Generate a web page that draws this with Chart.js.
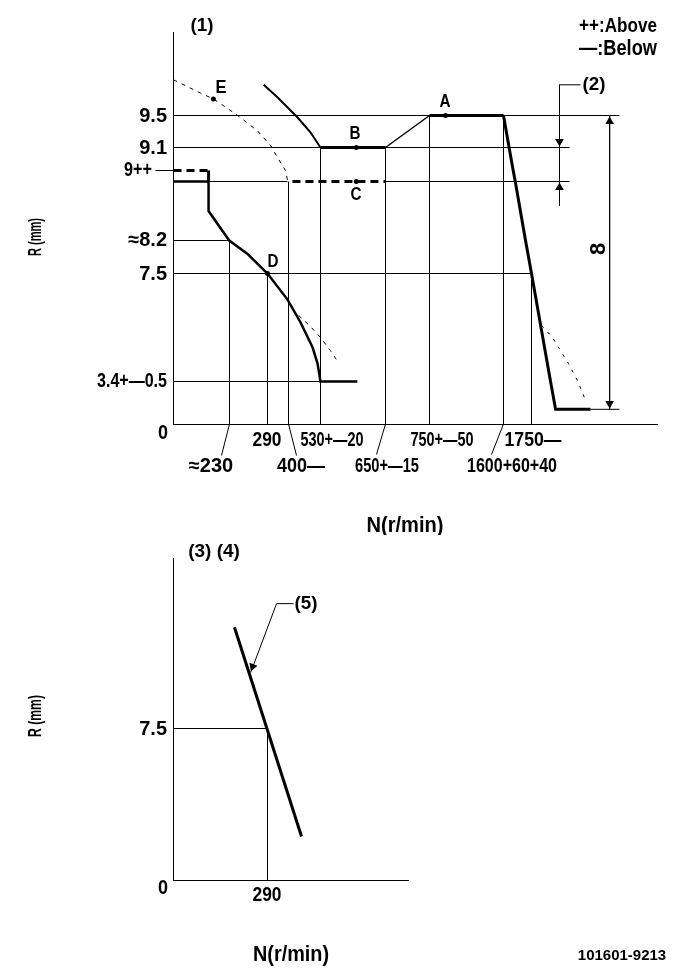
<!DOCTYPE html>
<html>
<head>
<meta charset="utf-8">
<style>
html,body{margin:0;padding:0;background:#fff;width:685px;height:979px;overflow:hidden}
canvas{position:absolute;left:0;display:block}
</style>
<script src="https://cdn.jsdelivr.net/npm/chart.js@4/dist/chart.umd.js"></script>
</head>
<body>
<canvas id="top" width="685" height="535" style="top:0"></canvas>
<canvas id="bottom" width="685" height="444" style="top:535px"></canvas>
<script>
// ---------- governor curve values (N in r/min, R in mm) ----------
const mainN = [0,144,144,229,258,290,395,449,498,518,530,598];
const mainR = [8.9,8.9,8.55,8.2,7.92,7.5,6.51,5.64,4.69,4.08,3.4,3.4];
const upperN = [284,342,437,489,530];
const upperR = [9.87,9.72,9.475,9.29,9.1];
const plateauBN = [530,650];
const plateauBR = [9.1,9.1];
const rampN = [650,750];
const rampR = [9.1,9.5];
const plateauAN = [750,1600];
const plateauAR = [9.5,9.5];
const dropN = [1600,1630,1652,1663,1718,1750,1818,1836,1961];
const dropR = [9.5,9.1,9.0,8.9,8.2,7.5,3.4,1.2,1.2];
const plusDashN = [0,144];
const plusDashR = [9.0,9.0];
const stepN = [144,144];
const stepR = [9.0,8.9];
const levelCN = [416,650];
const levelCR = [8.9,8.9];
const limitEN = [0,111,164,243,274,306,342,384,395];
const limitER = [9.93,9.77,9.7,9.5,9.31,9.125,9.057,9.0,8.91];
const limitLowN = [441,489,530,548,563];
const limitLowR = [5.91,5.49,5.07,4.58,4.12];
const limitHighN = [1786,1825,1882,1914,1939];
const limitHighR = [5.53,5.07,4.08,3.44,2.13];
const pointN = [934,596,596,290,164];
const pointR = [9.5,9.1,8.9,7.5,9.7];
// reference lines
const vLineN = [230,290,400,530,650,750,1600,1750];
const vLineR = [8.2,7.5,8.9,9.1,9.1,9.5,9.5,7.5];
const hLineR = [9.5,9.1,8.9,8.2,7.5,3.4];
const hLineFrom = [0,0,0,0,0,0];
const hLineTo = [2064,1886,395,230,1750,530];
const hLineCRightN = [650,1886];
const hLineCRightR = [8.9,8.9];
// dimension marks
const dim8N = [2029,2029];
const dim8R = [9.5,1.2];
const tail8N = [1961,2064];
const tail8R = [1.2,1.2];
const note2N = [1925,1850,1850];
const note2R = [9.87,9.87,8.615];
const arrowN = [2029,2029,1850,1850];
const arrowR = [9.425,1.66,9.175,8.83];
const arrowTurn = [0,180,180,0];
const plus9N = [-74,0];
const plus9R = [9.0,9.0];
// ---------- lower chart values ----------
const slopeN = [188,395];
const slopeR = [12.5,2.17];
const refVN = [290,290];
const refVR = [0,7.5];
const refHN = [0,290];
const refHR = [7.5,7.5];
const note5N = [370,318,238];
const note5R = [13.67,13.67,10.26];
const arrow5N = [244];
const arrow5R = [10.56];
// ---------- tick labels ----------
const xTickValues = [230,290,400,530,650,750,1600,1750];
const xTickLabels = ["≈230","290","400—","530+—20","650+—15","750+—50","1600+60+40","1750—"];
const yTickValues = [9.5,9.1,9.0,8.2,7.5,3.4];
const yTickLabels = ["9.5","9.1","9++","≈8.2","7.5","3.4+—0.5"];
const xTicksLow = [290];
const xTickLabelsLow = ["290"];
const yTicksLow = [7.5];
const yTickLabelsLow = ["7.5"];

// ---------- drawing layout (not data) ----------
const xStops = [0,230,290,400,530,650,750,1600,1750,2200];
const xStopOffsets = [0,56,94,115,147,212,256,330,358,484];
const yStops = [0,3.4,7.5,8.2,8.9,9.0,9.1,9.5,10.5];
const yStopOffsets = [0,43,151,184,243,254,277,309,392];
const xStopsLow = [0,290,725];
const xStopOffsetsLow = [0,94,235];
const yStopsLow = [0,7.5,15.9];
const yStopOffsetsLow = [0,152,322];
const xLabelBox = [[211,466,48],[267,440,29],[301,466,48],[332,440,63],[387,466,64],[442,440,63],[512,466,90],[533,440,57]];
const yLabelBox = [[167,116,28],[167,148,28],[152,170,28],[167,240,46],[167,274,28],[167,381,70]];
const FONT = '"Liberation Sans Narrow","Liberation Sans",sans-serif';

function interp(v, from, to){
  let i = 0;
  while(i < from.length-2 && v > from[i+1]) i++;
  return to[i] + (v-from[i])*(to[i+1]-to[i])/(from[i+1]-from[i]);
}
// Schematic drawing: the axis is piecewise, each labelled value has its own spacing.
class SchematicScale extends Chart.LinearScale {
  static id = 'schematic';
  static defaults = {};
  getPixelForValue(v){
    const off = interp(v, this.options.stops, this.options.offsets);
    return this.isHorizontal() ? this.left + off + 0.5 : this.bottom - off + 0.5;
  }
  getValueForPixel(p){
    const off = this.isHorizontal() ? p - this.left - 0.5 : this.bottom - p + 0.5;
    return interp(off, this.options.offsets, this.options.stops);
  }
}
Chart.register(SchematicScale);

function zip(xs, ys){ return xs.map((x,i)=>({x, y: ys[i]})); }
function line(xs, ys, width, dash){
  return {data: zip(xs,ys), showLine:true, borderColor:'#000', backgroundColor:'#000',
    borderWidth:width, borderDash:dash||[], pointRadius:0, tension:0, clip:false,
    borderCapStyle:'butt', borderJoinStyle:'miter'};
}
function marks(xs, ys, style, radius, rotation){
  return {data: zip(xs,ys), showLine:false, borderColor:'#000', backgroundColor:'#000', borderWidth:0,
    pointStyle:style, pointRadius:radius, pointRotation:rotation||0, clip:false};
}
function axis(stops, offsets, position){
  return {type:'schematic', stops, offsets, position,
    min:stops[0], max:stops[stops.length-1],
    grid:{display:false,drawTicks:false}, ticks:{display:false},
    border:{display:true,color:'#000',width:1},
    afterFit(s){ if(s.isHorizontal()) s.height=0; else s.width=0; }};
}
function put(ctx, t){
  ctx.save();
  ctx.fillStyle='#000';
  ctx.font='bold '+t.size+'px '+FONT;
  ctx.textAlign=t.align||'center';
  ctx.textBaseline='middle';
  ctx.translate(t.x,t.y);
  if(t.rot) ctx.rotate(t.rot);
  if(t.w) ctx.fillText(t.text,0,0,t.w); else ctx.fillText(t.text,0,0);
  ctx.restore();
}
function textPlugin(items, leaders, pageTop){
  return {id:'notes', afterDraw(chart){
    const ctx=chart.ctx;
    ctx.save();
    ctx.strokeStyle='#000'; ctx.lineWidth=1;
    leaders.forEach(l=>{
      ctx.beginPath();
      ctx.moveTo(chart.scales.x.getPixelForValue(l[0]), chart.scales.y.bottom);
      ctx.lineTo(l[1]+0.5, l[2]-pageTop+0.5);
      ctx.stroke();
    });
    ctx.restore();
    items.forEach(t=>put(ctx,Object.assign({},t,{y:t.y-pageTop})));
  }};
}
function opts(pad, xAxis, yAxis){
  return {responsive:false, animation:false, devicePixelRatio:1, events:[],
    layout:{padding:pad},
    plugins:{legend:{display:false},tooltip:{enabled:false},title:{display:false}},
    scales:{x:xAxis,y:yAxis}};
}

const topItems = [
  ...xTickLabels.map((s,i)=>({text:s,x:xLabelBox[i][0],y:xLabelBox[i][1],w:xLabelBox[i][2],size:20})),
  ...yTickLabels.map((s,i)=>({text:s,x:yLabelBox[i][0],y:yLabelBox[i][1],w:yLabelBox[i][2],size:20,align:'right'})),
  {text:'0',x:163,y:433,size:20,w:10},
  {text:'R (mm)',x:36,y:237,size:18,w:38,rot:-Math.PI/2},
  {text:'N(r/min)',x:405,y:526,size:22,w:77},
  {text:'(1)',x:202,y:26,size:19,w:23},
  {text:'(2)',x:594,y:85,size:19,w:23},
  {text:'8',x:599,y:249,size:22,rot:-Math.PI/2},
  {text:'++:Above',x:618,y:26,size:20,w:78},
  {text:'—:Below',x:618,y:49,size:22,w:78},
  {text:'A',x:445,y:102,size:19,w:11},
  {text:'B',x:355,y:134,size:19,w:11},
  {text:'C',x:356,y:195,size:19,w:11},
  {text:'D',x:273,y:262,size:19,w:11},
  {text:'E',x:221,y:88,size:19,w:11}
];
const topLeaders = [[230,221,455],[400,296,455],[650,376,454],[1600,491,454]];

new Chart(document.getElementById('top'),{
  type:'scatter',
  data:{datasets:[
    ...vLineN.map((n,i)=>line([n,n],[0,vLineR[i]],1)),
    ...hLineR.map((r,i)=>line([hLineFrom[i],hLineTo[i]],[r,r],1)),
    line(hLineCRightN,hLineCRightR,1),
    line(plus9N,plus9R,1),
    line(tail8N,tail8R,1),
    line(dim8N,dim8R,1),
    line(note2N,note2R,1),
    line(limitEN,limitER,1,[4,5]),
    line(limitLowN,limitLowR,1,[4,5]),
    line(limitHighN,limitHighR,1,[3,6]),
    line(upperN,upperR,2),
    line(rampN,rampR,1.5),
    line(mainN,mainR,2.5),
    line(plateauBN,plateauBR,3),
    line(plateauAN,plateauAR,3),
    line(dropN,dropR,3),
    line(plusDashN,plusDashR,3,[8,5]),
    line(stepN,stepR,3),
    line(levelCN,levelCR,3,[8,5]),
    marks(pointN,pointR,'circle',2.5),
    {...marks(arrowN,arrowR,'triangle',5), pointRotation:arrowTurn}
  ]},
  options:opts({left:173,right:28,top:32,bottom:111},
    axis(xStops,xStopOffsets,'bottom'),axis(yStops,yStopOffsets,'left')),
  plugins:[textPlugin(topItems,topLeaders,0)]
});

const lowItems = [
  {text:xTickLabelsLow[0],x:267,y:895,size:20,w:29},
  {text:yTickLabelsLow[0],x:167,y:729,size:20,w:28,align:'right'},
  {text:'0',x:163,y:888,size:20,w:10},
  {text:'R (mm)',x:36,y:716,size:18,w:42,rot:-Math.PI/2},
  {text:'N(r/min)',x:291,y:955,size:22,w:76},
  {text:'(3) (4)',x:214,y:552,size:19,w:52},
  {text:'(5)',x:306,y:604,size:19,w:23},
  {text:'101601-9213',x:622,y:956,size:15,w:91}
];
new Chart(document.getElementById('bottom'),{
  type:'scatter',
  data:{datasets:[
    line(refVN,refVR,1),
    line(refHN,refHR,1),
    line(note5N,note5R,1),
    line(slopeN,slopeR,3),
    {...marks(arrow5N,arrow5R,'triangle',5), pointRotation:200}
  ]},
  options:opts({left:173,right:277,top:23,bottom:99},
    axis(xStopsLow,xStopOffsetsLow,'bottom'),axis(yStopsLow,yStopOffsetsLow,'left')),
  plugins:[textPlugin(lowItems,[],535)]
});
</script>
</body>
</html>
